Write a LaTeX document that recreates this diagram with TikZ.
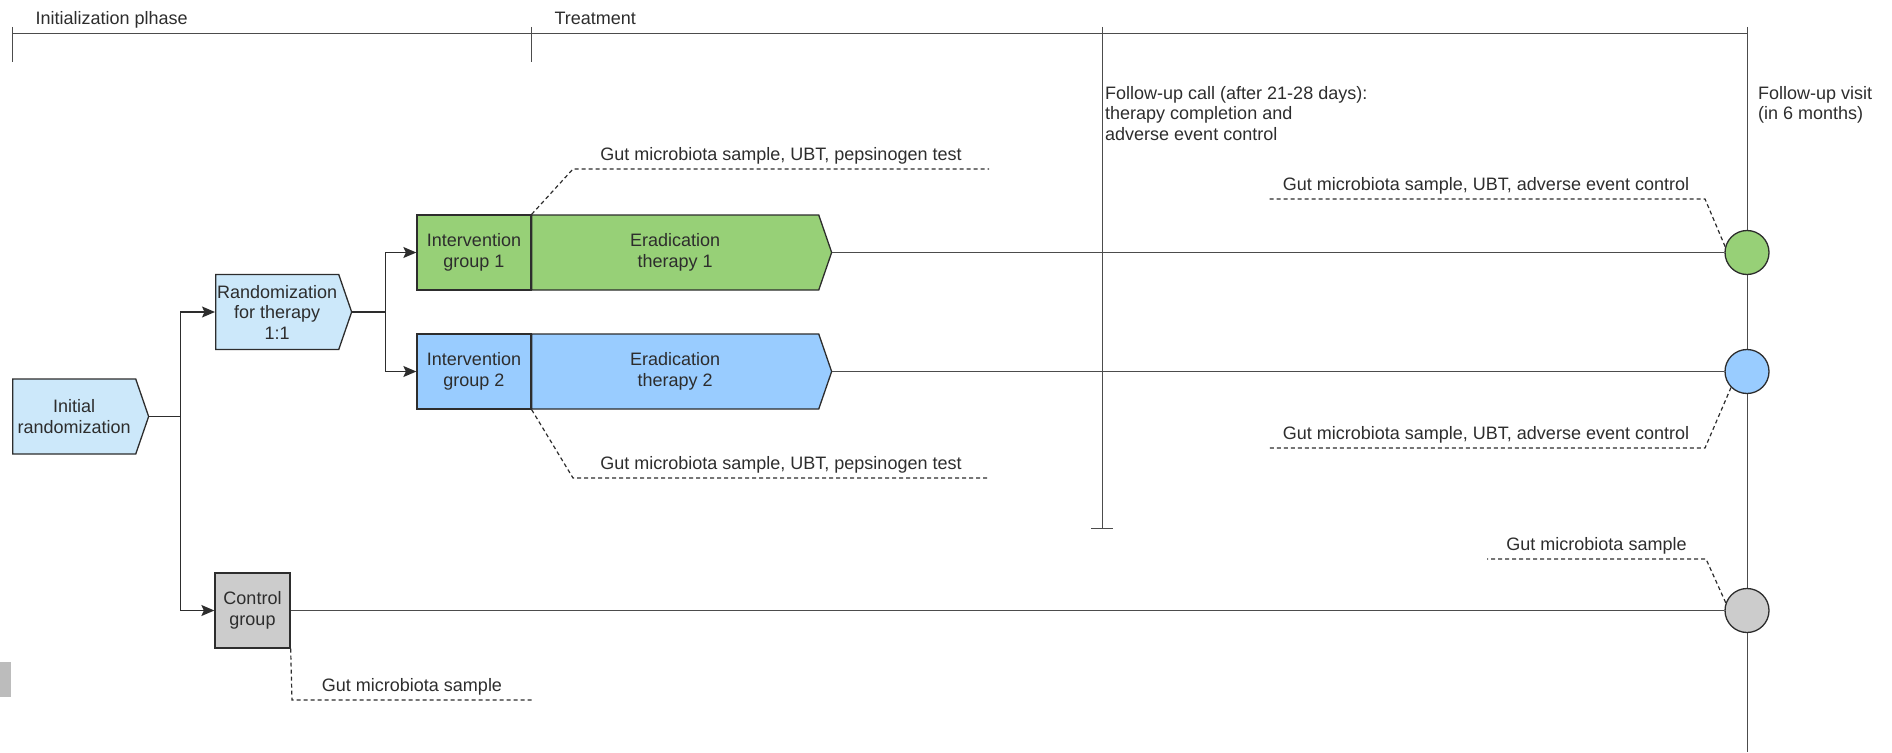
\documentclass[tikz,border=0pt]{standalone}
\usepackage{fontspec}
\setmainfont{Liberation Sans}
\usetikzlibrary{arrows.meta,shapes.symbols}
\definecolor{encre}{RGB}{45,45,45}
\definecolor{bleuclair}{RGB}{204,232,250}
\definecolor{bleu}{RGB}{153,204,255}
\definecolor{vert}{RGB}{151,208,119}
\definecolor{gris}{RGB}{204,204,204}

\begin{document}
\begin{tikzpicture}[x=1pt,y=-1pt]
% Styles
 \tikzstyle{texte}=[text=encre,font=\fontsize{18}{20.5}\selectfont]
 \tikzstyle{bloc}=[texte,draw=encre,line width=1.3pt,minimum height=75pt,inner sep=0pt,align=center]
 \tikzstyle{fleche}=[bloc,signal,signal to=east,signal pointer angle=142,anchor=west]
 \tikzstyle{visite}=[circle,draw=encre,line width=1.3pt,minimum size=44pt,inner sep=0pt]
 \tikzstyle{axe}=[line width=1pt,draw=black!70]
 \tikzstyle{operation}=[-{Stealth[length=13pt,width=11pt,inset=2.5pt]},line width=1.3pt,draw=encre]
 \tikzstyle{suivi}=[line width=1.6pt,draw=black!70]
 \tikzstyle{commentaire}=[dash pattern=on 4pt off 3pt,line width=1.2pt,draw=encre]
 \tikzstyle{etiquette}=[texte,midway,anchor=base,yshift=9pt]
 \useasboundingbox (0,0) rectangle (1892,752);
% Phases
 \draw[axe] (12,34) -- (1747,34);
 \draw[axe] (12,27) -- (12,62);
 \draw[axe] (531,27) -- (531,62);
 \draw[axe] (1102,27) -- (1102,528);
 \draw[axe] (1091,528) -- (1113,528);
 \draw[axe] (1747,27) -- (1747,752);
 \node[texte,anchor=base west] (phase1) at (32,25) {Initialization plhase};
 \node[texte,anchor=base west] (phase2) at (551,25) {Treatment};
 \node[texte,anchor=north west,align=left,inner sep=0pt] (appel) at (1105,86)
      {Follow-up call (after 21-28 days):\\therapy completion and\\adverse event control};
 \node[texte,anchor=north west,align=left,inner sep=0pt] (visite) at (1758,86)
      {Follow-up visit\\(in 6 months)};
 \fill[gris!92!black] (0,662) rectangle (11,697);
% Randomisation
 \node[fleche,fill=bleuclair,minimum width=136pt] (init) at (12,416.5) {Initial\\randomization};
 \node[fleche,fill=bleuclair,minimum width=136pt] (rando) at (215,312) {Randomization\\for therapy\\1:1};
 \node[bloc,fill=gris,minimum width=75pt] (ctrl) at (252.5,610.5) {Control\\group};
% Groupe 1
 \node[bloc,fill=vert,minimum width=114pt] (ig1) at (474,252.5) {Intervention\\group 1};
 \node[fleche,fill=vert,minimum width=300pt] (et1) at (531,252.5) {Eradication\\therapy 1};
% Groupe 2
 \node[bloc,fill=bleu,minimum width=114pt] (ig2) at (474,371.5) {Intervention\\group 2};
 \node[fleche,fill=bleu,minimum width=300pt] (et2) at (531,371.5) {Eradication\\therapy 2};
% Visites
 \node[visite,fill=vert] (c1) at (1747,252.5) {};
 \node[visite,fill=bleu] (c2) at (1747,371.5) {};
 \node[visite,fill=gris] (c3) at (1747,610.5) {};
% Fleches
 \draw[operation] (init.east) -- ++(31,0) |- (rando.west);
 \draw[operation] (init.east) -- ++(31,0) |- (ctrl.west);
 \draw[operation] (rando.east) -- ++(33,0) |- (ig1.west);
 \draw[operation] (rando.east) -- ++(33,0) |- (ig2.west);
 \draw[suivi] (et1.east) -- (c1.west);
 \draw[suivi] (et2.east) -- (c2.west);
 \draw[suivi] (ctrl.east) -- (c3.west);
% Commentaires
 \coordinate (a1) at (573,169);  \coordinate (b1) at (989,169);
 \coordinate (a2) at (573,478);  \coordinate (b2) at (989,478);
 \coordinate (a3) at (1705,199); \coordinate (b3) at (1267,199);
 \coordinate (a4) at (1705,448); \coordinate (b4) at (1267,448);
 \coordinate (a5) at (1706,559); \coordinate (b5) at (1487,559);
 \coordinate (a6) at (292,700);  \coordinate (b6) at (532,700);
 \draw[commentaire] (ig1.north east) -- (a1) -- (b1)
      node[etiquette] (n1) {Gut microbiota sample, UBT, pepsinogen test};
 \draw[commentaire] (ig2.south east) -- (a2) -- (b2)
      node[etiquette] (n2) {Gut microbiota sample, UBT, pepsinogen test};
 \draw[commentaire] (c1.165) -- (a3) -- (b3)
      node[etiquette] (n3) {Gut microbiota sample, UBT, adverse event control};
 \draw[commentaire] (c2.225) -- (a4) -- (b4)
      node[etiquette] (n4) {Gut microbiota sample, UBT, adverse event control};
 \draw[commentaire] (c3.160) -- (a5) -- (b5)
      node[etiquette] (n5) {Gut microbiota sample};
 \draw[commentaire] (ctrl.south east) -- (a6) -- (b6)
      node[etiquette] (n6) {Gut microbiota sample};
\end{tikzpicture}
\end{document}
